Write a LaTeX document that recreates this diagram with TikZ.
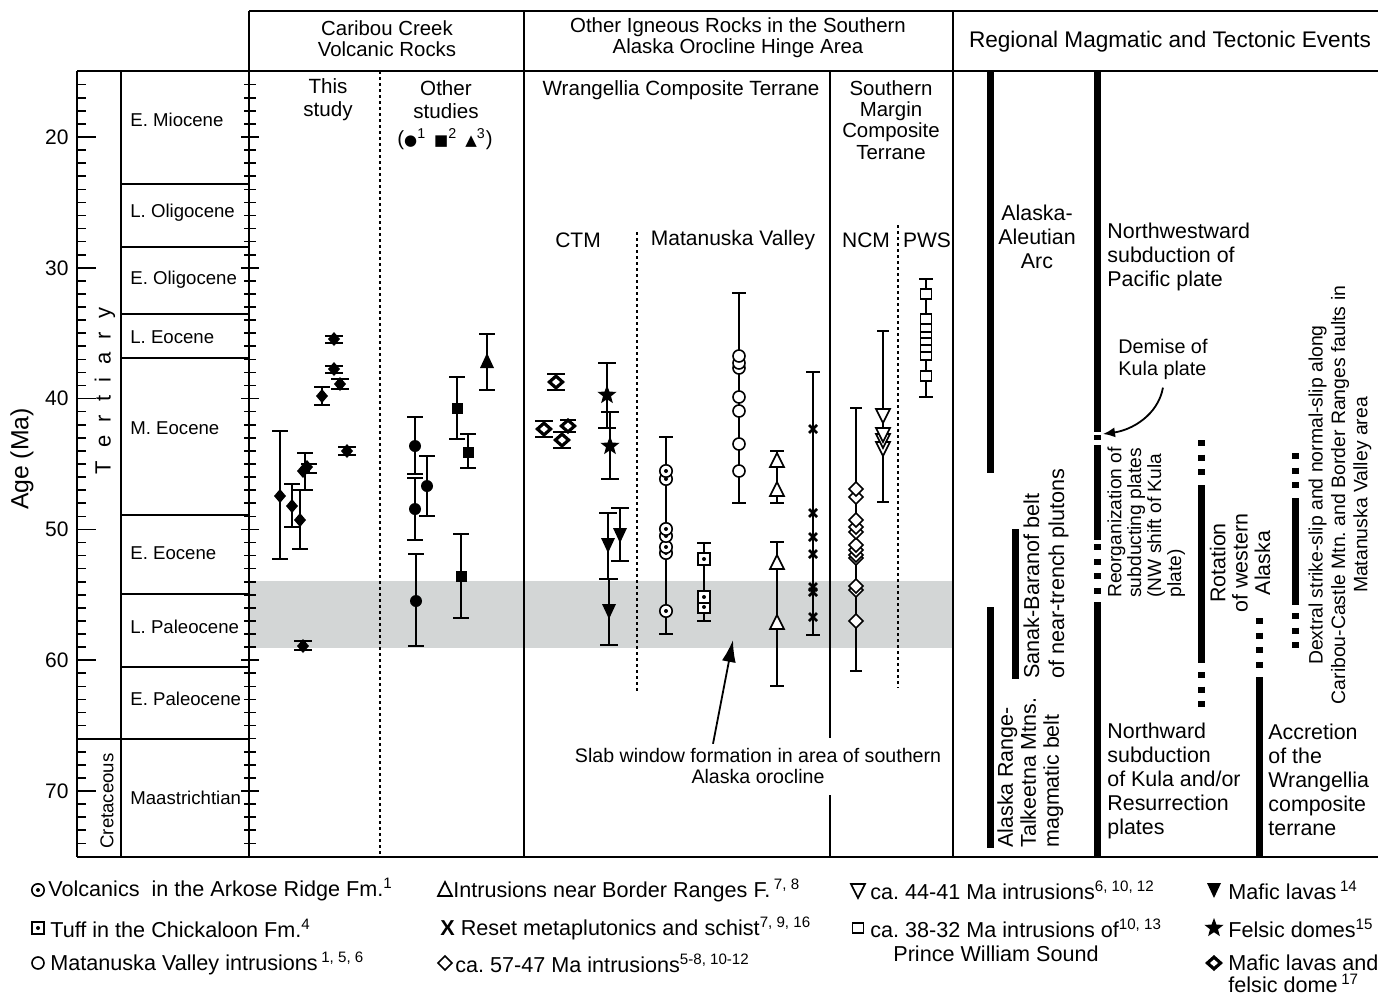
\documentclass[tikz,border=0pt]{standalone}
\usepackage{fontspec}
\setmainfont{Liberation Sans}
\newfontfamily\symfont{DejaVu Sans}
\usepackage{tikz}
\usetikzlibrary{arrows.meta,calc}
\frenchspacing
\definecolor{BandGray}{HTML}{D3D6D6}
\newcommand{\hdrfont}{\fontsize{10.2}{10.6}\selectfont}
\newcommand{\epfont}{\fontsize{9.3}{11}\selectfont}
\newcommand{\evfont}{\fontsize{10.7}{12}\selectfont}
\newcommand{\legfont}{\fontsize{10.8}{11}\selectfont}
\newcommand{\smsym}{\symfont\fontsize{7.5}{7.5}\selectfont}
% error bar: [cap half width]{x}{top}{bottom}
\newcommand{\eb}[4][8]{\draw[errbar] (#2-#1,#3) -- (#2+#1,#3) (#2,#3) -- (#2,#4) (#2-#1,#4) -- (#2+#1,#4);}
\tikzset{>=latex}
\tikzstyle{frame}=[line width=1.2pt]
\tikzstyle{sepline}=[line width=0.8pt,dash pattern=on 1.5pt off 1.5pt]
\tikzstyle{tick}=[line width=0.8pt]
\tikzstyle{errbar}=[line width=1pt]
\tikzstyle{evbar}=[line width=3.5pt]
\tikzstyle{evdots}=[line width=3.5pt,dash pattern=on 3pt off 4.3pt]
\tikzstyle{hdr}=[font=\hdrfont,align=center,inner sep=0pt]
\tikzstyle{eplabel}=[font=\epfont,anchor=west,inner sep=0pt]
\tikzstyle{agelabel}=[font=\fontsize{10.5}{11}\selectfont,anchor=east,inner sep=0pt]
\tikzstyle{evtext}=[font=\evfont,align=left,inner sep=0pt]
\tikzstyle{legtext}=[font=\legfont,anchor=west,inner sep=0pt]
\tikzstyle{opensym}=[fill=white,line width=0.8pt]
\tikzset{
	pics/fdiam/.style={code={\fill (0,-7) -- (6,0) -- (0,7) -- (-6,0) -- cycle;}},
	pics/odiam/.style={code={\filldraw[opensym] (0,-7) -- (7,0) -- (0,7) -- (-7,0) -- cycle;}},
	pics/mdiam/.style={code={\fill (0,-8) -- (9,0) -- (0,8) -- (-9,0) -- cycle;
			\fill[white] (0,-3.5) -- (4,0) -- (0,3.5) -- (-4,0) -- cycle;}},
	pics/fcirc/.style={code={\fill (0,0) circle (6);}},
	pics/ocirc/.style={code={\filldraw[opensym] (0,0) circle (6);}},
	pics/dcirc/.style={code={\filldraw[opensym] (0,0) circle (6.2); \fill (0,0) circle (2);}},
	pics/fsq/.style={code={\fill (-5.5,-5.5) rectangle (5.5,5.5);}},
	pics/osq/.style={code={\filldraw[opensym] (-5.5,-5) rectangle (5.5,5);}},
	pics/dsq/.style={code={\filldraw[opensym] (-6,-6) rectangle (6,6); \fill (0,0) circle (2);}},
	pics/ftriup/.style={code={\fill (-7,7) -- (7,7) -- (0,-8) -- cycle;}},
	pics/otriup/.style={code={\filldraw[opensym] (-7,6) -- (7,6) -- (0,-8) -- cycle;}},
	pics/otridn/.style={code={\filldraw[opensym] (-7,-6) -- (7,-6) -- (0,8) -- cycle;}},
	pics/ftridn/.style={code={\fill (-7,-7) -- (7,-7) -- (0,8) -- cycle;}},
	pics/xmark/.style={code={\draw[line width=1.3pt] (-4,-4) -- (4,4) (-4,4) -- (4,-4);}},
	pics/fstar/.style={code={\fill (0,-10) \foreach \a/\r in {1/4.2,2/10,3/4.2,4/10,5/4.2,6/10,7/4.2,8/10,9/4.2} {-- ({-90+36*\a}:\r)} -- cycle;}}
}

\begin{document}
\begin{tikzpicture}[x=0.5pt,y=-0.5pt]
	\useasboundingbox (0,0) rectangle (1378,996);
	
	% Gray band (slab window)
	\fill[BandGray] (249,581) rectangle (953,648);
	
	% Frame
	\draw[frame] (249,11) -- (1378,11);
	\draw[frame] (77,71) -- (1378,71);
	\draw[frame] (77,857) -- (1378,857);
	\draw[frame] (77,71) -- (77,857);
	\draw[frame] (121,71) -- (121,857);
	\draw[frame] (249,11) -- (249,857);
	\draw[frame] (524,11) -- (524,857);
	\draw[frame] (953,11) -- (953,857);
	\draw[frame] (830,71) -- (830,738) (830,795) -- (830,857);
	\draw[sepline] (380,71) -- (380,857);
	\draw[sepline] (637,232) -- (637,693);
	\draw[sepline] (898,225) -- (898,688);
	
	% Epoch boundaries
	\foreach \yb in {184,247,314,358,515,594,667}
	\draw[frame] (121,\yb) -- (249,\yb);
	\draw[frame] (77,739) -- (249,739);
	
	% Age scale
	\foreach \a in {16,...,74}{
		\draw[tick] (77,{137+(\a-20)*13.08}) -- +(9,0);
		\draw[tick] (244,{137+(\a-20)*13.08}) -- +(12,0);
	}
	\foreach \a in {20,30,...,70}{
		\draw[tick] (77,{137+(\a-20)*13.08}) -- +(19,0);
		\draw[tick] (241,{137+(\a-20)*13.08}) -- +(18,0);
		\node[agelabel] (age\a) at (69,{137+(\a-20)*13.08}) {\a};
	}
	\node[rotate=90,font=\fontsize{12.4}{13}\selectfont,inner sep=0pt] (agetitle) at (22,459) {Age (Ma)};
	\node[rotate=90,font=\fontsize{11}{11}\selectfont,inner sep=0pt] (tert) at (105,391)
	{T\hspace{.6em}e\hspace{.6em}r\hspace{.6em}t\hspace{.6em}i\hspace{.6em}a\hspace{.6em}r\hspace{.6em}y};
	\node[rotate=90,font=\epfont,inner sep=0pt] (cret) at (107,801) {Cretaceous};
	
	% Epochs
	\node[eplabel] (emio) at (130,120) {E. Miocene};
	\node[eplabel] (lolig) at (130,213) {L. Oligocene};
	\node[eplabel] (eolig) at (130,280) {E. Oligocene};
	\node[eplabel] (leoc) at (130,337) {L. Eocene};
	\node[eplabel] (meoc) at (130,428) {M. Eocene};
	\node[eplabel] (eeoc) at (130,553) {E. Eocene};
	\node[eplabel] (lpal) at (130,627) {L. Paleocene};
	\node[eplabel] (epal) at (130,699) {E. Paleocene};
	\node[eplabel] (maas) at (130,798) {Maastrichtian};
	
	% Headers
	\node[hdr] (cchead) at (387,39) {Caribou Creek\\Volcanic Rocks};
	\node[hdr] (oihead) at (738,38) {Other Igneous Rocks in the Southern\\Alaska Orocline Hinge Area};
	\node[hdr,font=\fontsize{11.3}{12}\selectfont] (rehead) at (1170,42) {Regional Magmatic and Tectonic Events};
	\node[hdr,font=\fontsize{10.3}{11.5}\selectfont] (thisst) at (328,100) {This\\study};
	\node[hdr,font=\fontsize{10.3}{11.5}\selectfont] (othst) at (446,100) {Other\\studies};
	\node[hdr] (othkey) at (445,139) {({\smsym ●}\textsuperscript{1}\hspace{4pt}{\smsym ■}\textsuperscript{2}\hspace{4pt}{\smsym ▲}\textsuperscript{3})};
	\node[hdr,font=\fontsize{10.3}{11}\selectfont] (wrang) at (681,90) {Wrangellia Composite Terrane};
	\node[hdr] (smct) at (891,120) {Southern\\Margin\\Composite\\Terrane};
	\node[hdr,font=\fontsize{10.5}{11}\selectfont] (ctm) at (578,240) {CTM};
	\node[hdr,font=\fontsize{10.5}{11}\selectfont] (matv) at (733,240) {Matanuska Valley};
	\node[hdr,font=\fontsize{10.5}{11}\selectfont] (ncm) at (866,240) {NCM};
	\node[hdr,font=\fontsize{10.5}{11}\selectfont] (pws) at (927,240) {PWS};
	
	% This study
	\eb{280}{431}{559} \pic at (280,496) {fdiam};
	\eb{292}{484}{527} \pic at (292,506) {fdiam};
	\eb{300}{490}{549} \pic at (300,520) {fdiam};
	\eb{305}{453}{490} \pic at (303,471) {fdiam};
	\eb{309}{464}{473} \pic at (307,467) {fdiam};
	\eb{322}{387}{405} \pic at (322,396) {fdiam};
	\eb[9]{334}{336}{343} \pic at (334,339) {fdiam};
	\eb[9]{334}{366}{373} \pic at (334,369) {fdiam};
	\eb[9]{340}{379}{389} \pic at (340,384) {fdiam};
	\eb[9]{347}{447}{455} \pic at (347,451) {fdiam};
	\eb[9]{303}{641}{650} \pic at (303,646) {fdiam};
	
	% Other studies
	\eb{415}{417}{474} \pic at (415,446) {fcirc};
	\eb{415}{478}{540} \pic at (415,509) {fcirc};
	\eb{427}{456}{516} \pic at (427,486) {fcirc};
	\eb{416}{554}{646} \pic at (416,601) {fcirc};
	\eb{457}{377}{439} \pic at (457,408) {fsq};
	\eb{468}{434}{468} \pic at (468,452) {fsq};
	\eb{461}{534}{618} \pic at (461,576) {fsq};
	\eb{487}{334}{390} \pic at (487,361) {ftriup};
	
	% CTM
	\eb[9]{556}{374}{390} \pic at (556,382) {mdiam};
	\eb[9]{544}{421}{437} \pic at (544,429) {mdiam};
	\eb[9]{562}{432}{448} \pic at (562,440) {mdiam};
	\eb[8]{568}{420}{432} \pic at (568,426) {mdiam};
	\eb[9]{607}{363}{428} \pic at (607,395) {fstar};
	\eb[9]{610}{412}{479} \pic at (610,446) {fstar};
	\eb[9]{608}{513}{579} \pic at (608,545) {ftridn};
	\eb[9]{620}{508}{561} \pic at (620,535) {ftridn};
	\eb[9]{609}{579}{645} \pic at (609,611) {ftridn};
	
	% Matanuska Valley
	\eb[7]{666}{437}{634}
	\foreach \y in {611,553,547,536,529,479,471} {\pic at (666,\y) {dcirc};}
	\eb[7]{704}{543}{621}
	\foreach \y in {607,597,559} {\pic at (704,\y) {dsq};}
	\eb[7]{739}{293}{503}
	\foreach \y in {471,444,411,397,368,363,356} {\pic at (739,\y) {ocirc};}
	\eb[7]{777}{451}{503}
	\foreach \y in {490,461} {\pic at (777,\y) {otriup};}
	\eb[7]{777}{542}{686}
	\foreach \y in {623,563} {\pic at (777,\y) {otriup};}
	\eb[7]{813}{372}{635}
	\foreach \y in {429,513,537,554,587,592,617} {\pic at (813,\y) {xmark};}
	
	% NCM and PWS
	\eb[6]{856}{408}{671}
	\foreach \y in {621,590,586,558,555,550,545,532,527,520,497,489} {\pic at (856,\y) {odiam};}
	\eb[6]{883}{331}{502}
	\foreach \y in {448,440,434,415} {\pic at (883,\y) {otridn};}
	\eb[7]{926}{279}{397}
	\foreach \y in {376,355,347,340,333,327,319,294} {\pic at (926,\y) {osq};}
	
	% Slab window
	\node[hdr,font=\fontsize{9.8}{10.6}\selectfont] (slab) at (758,766) {Slab window formation in area of southern\\Alaska orocline};
	\coordinate (slabtip) at (733,640);
	\draw[-{Latex[length=11pt,width=7pt]},line width=0.9pt] ($(slab.north)+(-45,-4)$) -- (slabtip);
	
	% Regional events: bars
	\draw[evbar] (990,71) -- (990,473);
	\draw[evbar] (990,607) -- (990,848);
	\draw[evbar] (1015,529) -- (1015,679);
	\draw[evbar] (1097,71) -- (1097,432);
	\draw[evbar] (1097,435) -- (1097,440);
	\draw[evbar] (1097,445) -- (1097,540);
	\draw[evdots] (1097,544) -- (1097,598);
	\draw[evbar] (1097,602) -- (1097,857);
	\draw[evdots] (1201,440) -- (1201,478);
	\draw[evbar] (1201,485) -- (1201,663);
	\draw[evdots] (1201,672) -- (1201,710);
	\draw[evdots] (1259,618) -- (1259,672);
	\draw[evbar] (1259,677) -- (1259,857);
	\draw[evdots] (1295,453) -- (1295,494);
	\draw[evbar] (1295,498) -- (1295,605);
	\draw[evdots] (1295,613) -- (1295,652);
	
	% Regional events: labels
	\node[evtext,align=center] (aaarc) at (1037,237) {Alaska-\\Aleutian\\Arc};
	\node[evtext,anchor=west] (nwsub) at (1107,257) {Northwestward\\subduction of\\Pacific plate};
	\node[evtext,font=\fontsize{9.9}{11}\selectfont,anchor=west] (demise) at (1118,359) {Demise of\\Kula plate};
	\coordinate (kulaend) at (1103,434);
	\draw[-{Latex[length=6pt,width=5pt]},line width=0.9pt] ($(demise.south)+(0,8)$) .. controls (1158,415) and (1132,430) .. (kulaend);
	\node[evtext,rotate=90,anchor=north west,font=\fontsize{10.7}{11.5}\selectfont] (akrange) at (997,848) {Alaska Range-\\Talkeetna Mtns.\\magmatic belt};
	\node[evtext,rotate=90,anchor=north west,font=\fontsize{10.8}{12.5}\selectfont] (sanak) at (1023,679) {Sanak-Baranof belt\\of near-trench plutons};
	\node[evtext,rotate=90,anchor=north west,font=\fontsize{9.6}{8.4}\selectfont] (reorg) at (1107,598) {Reorganization of\\subducting plates\\(NW shift of Kula\\plate)};
	\node[evtext,rotate=90,align=center,font=\fontsize{10.7}{11.2}\selectfont] (rotwa) at (1240,563) {Rotation\\of western\\Alaska};
	\node[evtext,rotate=90,align=center,font=\fontsize{9.7}{11.2}\selectfont] (dextral) at (1340,495) {Dextral strike-slip and normal-slip along\\Caribou-Castle Mtn. and Border Ranges faults in\\Matanuska Valley area};
	\node[evtext,anchor=west] (nsub) at (1107,781) {Northward\\subduction\\of Kula and/or\\Resurrection\\plates};
	\node[evtext,anchor=west] (accr) at (1268,780) {Accretion\\of the\\Wrangellia\\composite\\terrane};
	
	% Legend
	\pic at (38,890) {dcirc};
	\node[legtext] (lvolc) at (48,890) {Volcanics\ \ in the Arkose Ridge Fm.\textsuperscript{1}};
	\pic at (38,928) {dsq};
	\node[legtext] (ltuff) at (50,928) {Tuff in the Chickaloon Fm.\textsuperscript{4}};
	\pic at (38,963) {ocirc};
	\node[legtext] (lmatv) at (50,963) {Matanuska Valley intrusions\,\textsuperscript{1, 5, 6}};
	\pic at (445,890) {otriup};
	\node[legtext] (lbord) at (453,890) {Intrusions near Border Ranges F.\,\textsuperscript{7, 8}};
	\node[legtext] (lreset) at (440,928) {\textbf{X} Reset metaplutonics and schist\textsuperscript{7, 9, 16}};
	\pic at (445,963) {odiam};
	\node[legtext] (l5747) at (455,963) {ca. 57-47 Ma intrusions\textsuperscript{5-8, 10-12}};
	\pic at (858,890) {otridn};
	\node[legtext] (l4441) at (870,890) {ca. 44-41 Ma intrusions\textsuperscript{6, 10, 12}};
	\pic at (858,928) {osq};
	\node[legtext] (l3832) at (870,928) {ca. 38-32 Ma intrusions of\textsuperscript{10, 13}};
	\node[legtext,anchor=center] (lpws) at (996,954) {Prince William Sound};
	\pic at (1214,890) {ftridn};
	\node[legtext] (lmaf) at (1228,890) {Mafic lavas\,\textsuperscript{14}};
	\pic at (1214,928) {fstar};
	\node[legtext] (lfel) at (1228,928) {Felsic domes\textsuperscript{15}};
	\pic at (1214,963) {mdiam};
	\node[legtext,align=left] (lmfd) at (1228,974) {Mafic lavas and\\felsic dome\,\textsuperscript{17}};
\end{tikzpicture}
\end{document}
